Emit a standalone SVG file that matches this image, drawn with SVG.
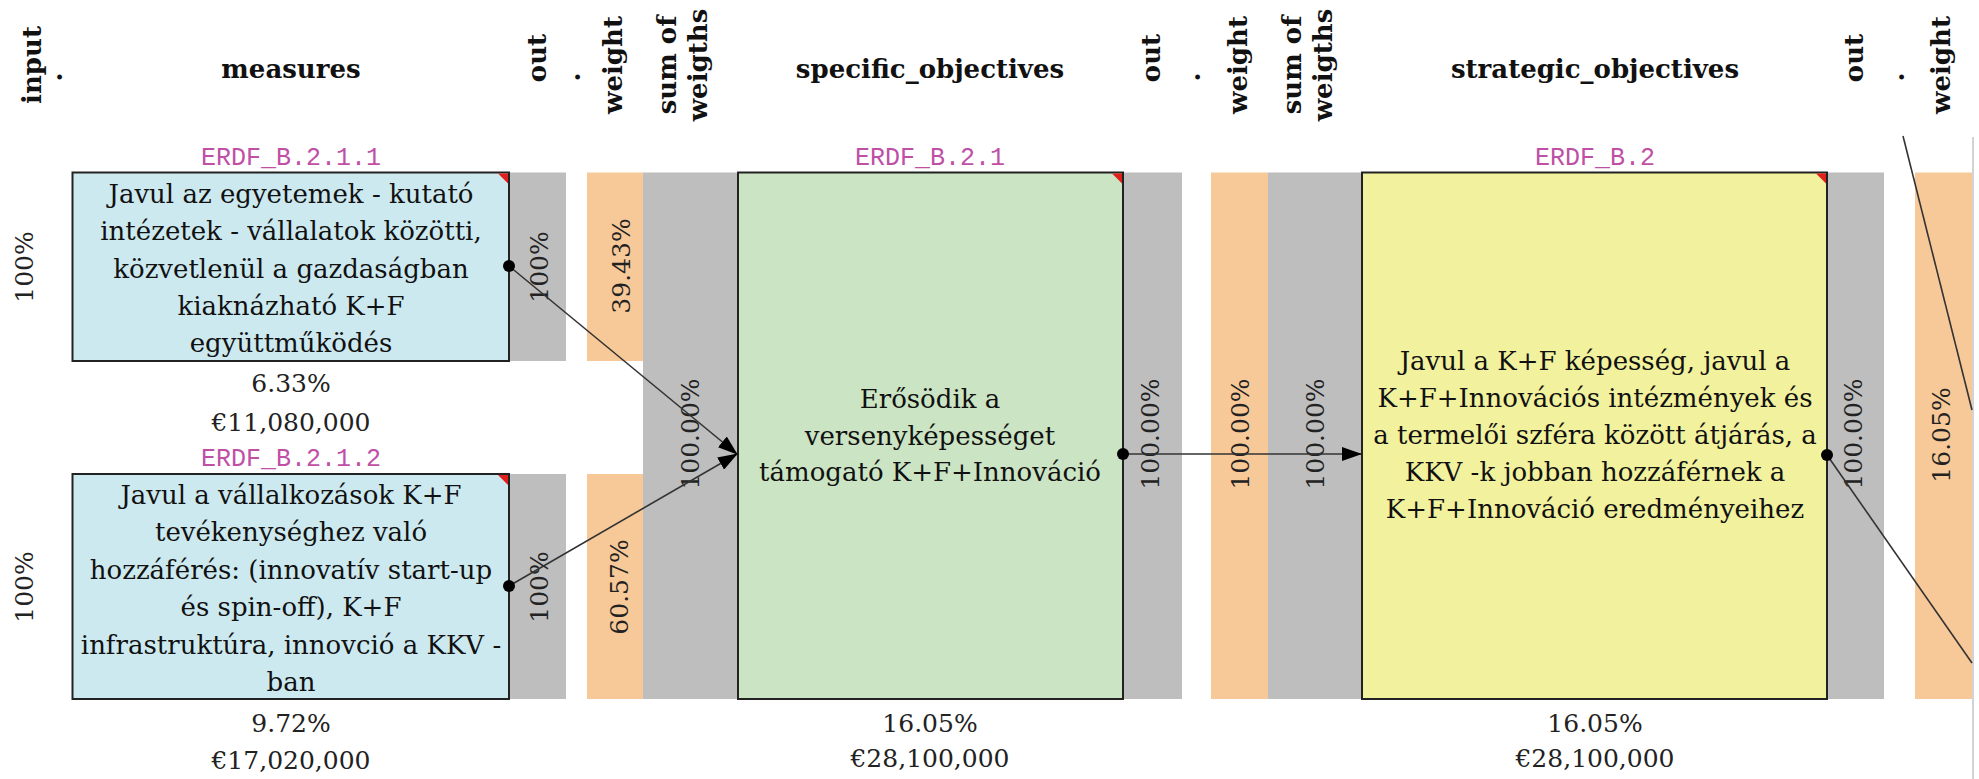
<svg xmlns="http://www.w3.org/2000/svg" width="1979" height="779" viewBox="0 0 1979 779">
<style>
.hdr{font-family:"DejaVu Serif",serif;font-weight:bold;font-size:26px;fill:#111}
.txt{font-family:"DejaVu Serif",serif;font-size:26px;fill:#111;text-anchor:middle}
.num{font-family:"DejaVu Serif",serif;font-size:25px;fill:#222}
.numc{font-family:"DejaVu Serif",serif;font-size:25px;fill:#222;text-anchor:middle}
.code{font-family:"Liberation Mono",monospace;font-size:25px;fill:#c04fa6;text-anchor:middle}
.gray{fill:#bebebe}
.orange{fill:#f8c998}
.box{stroke:#222;stroke-width:2}
.blue{fill:#cde9f0}
.green{fill:#cbe4c3}
.yellow{fill:#f2f19d}
.tri{fill:#e0201c}
.con{stroke:#333;stroke-width:1.6;fill:none}
.dot{fill:#000}
</style>
<defs>
<marker id="arr" markerWidth="20" markerHeight="14" refX="19" refY="7" orient="auto" markerUnits="userSpaceOnUse">
<path d="M0,0 L20,7 L0,14 Z" fill="#000"/>
</marker>
</defs>

<g id="headers">
<text class="hdr" transform="translate(41,65) rotate(-90)" text-anchor="middle">input</text>
<text class="hdr" transform="translate(62,77) rotate(-90)" text-anchor="middle">.</text>
<text class="hdr" x="291" y="78" text-anchor="middle">measures</text>
<text class="hdr" transform="translate(546,58) rotate(-90)" text-anchor="middle">out</text>
<text class="hdr" transform="translate(580,77) rotate(-90)" text-anchor="middle">.</text>
<text class="hdr" transform="translate(622,65) rotate(-90)" text-anchor="middle">weight</text>
<text class="hdr" transform="translate(676,65) rotate(-90)" text-anchor="middle">sum of</text>
<text class="hdr" transform="translate(707,65) rotate(-90)" text-anchor="middle">weigths</text>
<text class="hdr" x="930" y="78" text-anchor="middle">specific_objectives</text>
<text class="hdr" transform="translate(1160,58) rotate(-90)" text-anchor="middle">out</text>
<text class="hdr" transform="translate(1200,77) rotate(-90)" text-anchor="middle">.</text>
<text class="hdr" transform="translate(1247,65) rotate(-90)" text-anchor="middle">weight</text>
<text class="hdr" transform="translate(1301,65) rotate(-90)" text-anchor="middle">sum of</text>
<text class="hdr" transform="translate(1332,65) rotate(-90)" text-anchor="middle">weigths</text>
<text class="hdr" x="1595" y="78" text-anchor="middle">strategic_objectives</text>
<text class="hdr" transform="translate(1863,58) rotate(-90)" text-anchor="middle">out</text>
<text class="hdr" transform="translate(1904,77) rotate(-90)" text-anchor="middle">.</text>
<text class="hdr" transform="translate(1950,65) rotate(-90)" text-anchor="middle">weight</text>
</g>

<g id="columns">
<rect class="gray" x="509" y="172.5" width="57" height="188.5"/>
<rect class="gray" x="509" y="474" width="57" height="225"/>
<rect class="orange" x="587" y="172.5" width="56" height="188.5"/>
<rect class="orange" x="587" y="474" width="56" height="225"/>
<rect class="gray" x="643" y="172.5" width="95" height="526.5"/>
<rect class="gray" x="1123" y="172.5" width="59" height="526.5"/>
<rect class="orange" x="1211" y="172.5" width="57" height="526.5"/>
<rect class="gray" x="1268" y="172.5" width="94" height="526.5"/>
<rect class="gray" x="1827" y="172.5" width="57" height="526.5"/>
<rect class="orange" x="1915" y="172.5" width="57" height="526.5"/>
<line x1="1973" y1="137" x2="1973" y2="779" stroke="#c4c4c4" stroke-width="1.5"/>
<text class="num" transform="translate(33,267) rotate(-90)" text-anchor="middle">100%</text>
<text class="num" transform="translate(33,587) rotate(-90)" text-anchor="middle">100%</text>
<text class="num" transform="translate(548,267) rotate(-90)" text-anchor="middle">100%</text>
<text class="num" transform="translate(548,587) rotate(-90)" text-anchor="middle">100%</text>
<text class="num" transform="translate(630,266) rotate(-90)" text-anchor="middle">39.43%</text>
<text class="num" transform="translate(628,587) rotate(-90)" text-anchor="middle">60.57%</text>
<text class="num" transform="translate(699,434) rotate(-90)" text-anchor="middle">100.00%</text>
<text class="num" transform="translate(1159,434) rotate(-90)" text-anchor="middle">100.00%</text>
<text class="num" transform="translate(1249,434) rotate(-90)" text-anchor="middle">100.00%</text>
<text class="num" transform="translate(1324,434) rotate(-90)" text-anchor="middle">100.00%</text>
<text class="num" transform="translate(1862,434) rotate(-90)" text-anchor="middle">100.00%</text>
<text class="num" transform="translate(1950,435) rotate(-90)" text-anchor="middle">16.05%</text>
</g>

<g id="ERDF_B.2.1.1">
<text class="code" x="291" y="165">ERDF_B.2.1.1</text>
<rect class="box blue" x="72.5" y="172.5" width="436.5" height="188.5"/>
<path class="tri" d="M498,173.5 L508,173.5 L508,183.5 Z"/>
<text class="txt" x="291" y="203">Javul az egyetemek - kutató</text>
<text class="txt" x="291" y="240">intézetek - vállalatok közötti,</text>
<text class="txt" x="291" y="278">közvetlenül a gazdaságban</text>
<text class="txt" x="291" y="315">kiaknázható K+F</text>
<text class="txt" x="291" y="352">együttműködés</text>
<text class="numc" x="291" y="392">6.33%</text>
<text class="numc" x="291" y="431">€11,080,000</text>
</g>

<g id="ERDF_B.2.1.2">
<text class="code" x="291" y="466">ERDF_B.2.1.2</text>
<rect class="box blue" x="72.5" y="474" width="436.5" height="225"/>
<path class="tri" d="M498,475 L508,475 L508,485 Z"/>
<text class="txt" x="291" y="504">Javul a vállalkozások K+F</text>
<text class="txt" x="291" y="541">tevékenységhez való</text>
<text class="txt" x="291" y="579">hozzáférés: (innovatív start-up</text>
<text class="txt" x="291" y="616">és spin-off), K+F</text>
<text class="txt" x="291" y="654">infrastruktúra, innovció a KKV -</text>
<text class="txt" x="291" y="691">ban</text>
<text class="numc" x="291" y="732">9.72%</text>
<text class="numc" x="291" y="769">€17,020,000</text>
</g>

<g id="ERDF_B.2.1">
<text class="code" x="930" y="165">ERDF_B.2.1</text>
<rect class="box green" x="738" y="172.5" width="385" height="526.5"/>
<path class="tri" d="M1112,173.5 L1122,173.5 L1122,183.5 Z"/>
<text class="txt" x="930" y="408">Erősödik a</text>
<text class="txt" x="930" y="445">versenyképességet</text>
<text class="txt" x="930" y="481">támogató K+F+Innováció</text>
<text class="numc" x="930" y="732">16.05%</text>
<text class="numc" x="930" y="767">€28,100,000</text>
</g>

<g id="ERDF_B.2">
<text class="code" x="1595" y="165">ERDF_B.2</text>
<rect class="box yellow" x="1362" y="172.5" width="465" height="526.5"/>
<path class="tri" d="M1816,173.5 L1826,173.5 L1826,183.5 Z"/>
<text class="txt" x="1595" y="370">Javul a K+F képesség, javul a</text>
<text class="txt" x="1595" y="407">K+F+Innovációs intézmények és</text>
<text class="txt" x="1595" y="444">a termelői szféra között átjárás, a</text>
<text class="txt" x="1595" y="481">KKV -k jobban hozzáférnek a</text>
<text class="txt" x="1595" y="518">K+F+Innováció eredményeihez</text>
<text class="numc" x="1595" y="732">16.05%</text>
<text class="numc" x="1595" y="767">€28,100,000</text>
</g>

<g id="connectors">
<line class="con" x1="509" y1="266" x2="737" y2="454" marker-end="url(#arr)"/>
<line class="con" x1="509" y1="586" x2="737" y2="454" marker-end="url(#arr)"/>
<line class="con" x1="1123" y1="454" x2="1361" y2="454" marker-end="url(#arr)"/>
<line class="con" x1="1827" y1="455" x2="1972" y2="663"/>
<line class="con" x1="1903" y1="136" x2="1972" y2="410"/>
<circle class="dot" cx="509" cy="266" r="6"/>
<circle class="dot" cx="509" cy="586" r="6"/>
<circle class="dot" cx="1123" cy="454" r="6"/>
<circle class="dot" cx="1827" cy="455" r="6"/>
</g>
</svg>
